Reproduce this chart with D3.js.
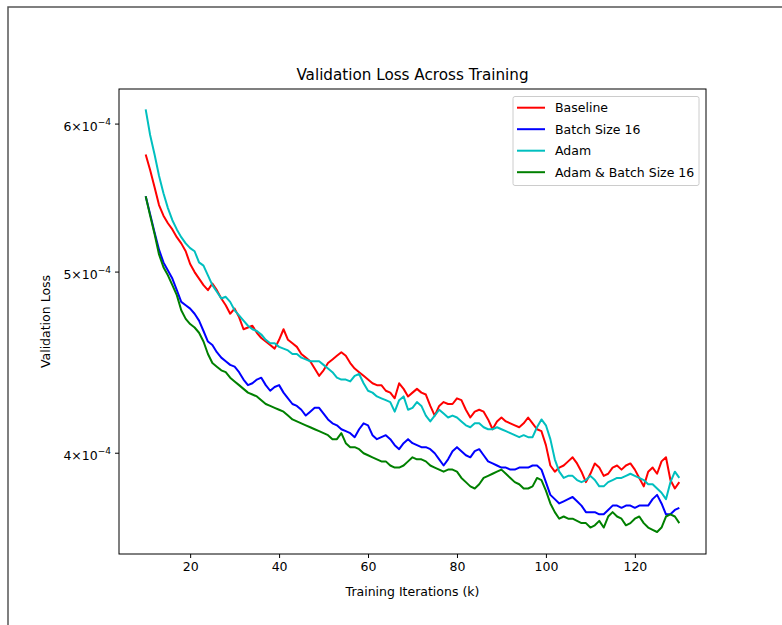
<!DOCTYPE html>
<html lang="en">
<head>
    <meta charset="UTF-8">
    <title>Validation Loss Across Training</title>
    <script src="https://d3js.org/d3.v7.min.js"></script>
    <style>
        body { margin: 0; background: #fff; }
        text { font-family: "DejaVu Sans", sans-serif; fill: #000; }
    </style>
</head>
<body>
<svg id="viz" width="782" height="625"></svg>

<script>
    // training iterations (k)
    var iterations = [10, 11, 12, 13, 14, 15, 16, 17, 18, 19, 20, 21, 22, 23, 24, 25, 26, 27, 28, 29,
        30, 31, 32, 33, 34, 35, 36, 37, 38, 39, 40, 41, 42, 43, 44, 45, 46, 47, 48, 49,
        50, 51, 52, 53, 54, 55, 56, 57, 58, 59, 60, 61, 62, 63, 64, 65, 66, 67, 68, 69,
        70, 71, 72, 73, 74, 75, 76, 77, 78, 79, 80, 81, 82, 83, 84, 85, 86, 87, 88, 89,
        90, 91, 92, 93, 94, 95, 96, 97, 98, 99, 100, 101, 102, 103, 104, 105, 106, 107, 108, 109,
        110, 111, 112, 113, 114, 115, 116, 117, 118, 119, 120, 121, 122, 123, 124, 125, 126, 127, 128, 129, 130];

    // validation loss, in units of 1e-4
    var lossBaseline = [5.78, 5.67, 5.55, 5.43, 5.36, 5.31, 5.27, 5.22, 5.18, 5.13,
        5.05, 5.00, 4.96, 4.92, 4.89, 4.93, 4.89, 4.84, 4.80, 4.75,
        4.78, 4.73, 4.66, 4.67, 4.68, 4.64, 4.61, 4.59, 4.57, 4.55,
        4.60, 4.66, 4.60, 4.58, 4.56, 4.52, 4.50, 4.48, 4.44, 4.40,
        4.43, 4.47, 4.49, 4.51, 4.53, 4.51, 4.47, 4.44, 4.42, 4.40,
        4.38, 4.36, 4.35, 4.35, 4.32, 4.31, 4.28, 4.36, 4.33, 4.29,
        4.31, 4.33, 4.31, 4.30, 4.24, 4.19, 4.24, 4.26, 4.25, 4.25,
        4.28, 4.27, 4.22, 4.18, 4.21, 4.22, 4.21, 4.17, 4.12, 4.16,
        4.18, 4.16, 4.15, 4.14, 4.13, 4.15, 4.18, 4.15, 4.12, 4.11,
        4.04, 3.94, 3.91, 3.93, 3.94, 3.96, 3.98, 3.95, 3.91, 3.86,
        3.90, 3.95, 3.93, 3.89, 3.90, 3.93, 3.94, 3.92, 3.94, 3.95,
        3.92, 3.88, 3.84, 3.91, 3.93, 3.90, 3.96, 3.98, 3.87, 3.83, 3.86];

    var lossBatch16 = [5.49, 5.37, 5.25, 5.14, 5.06, 5.01, 4.96, 4.89, 4.82, 4.80,
        4.78, 4.75, 4.71, 4.65, 4.59, 4.57, 4.53, 4.50, 4.48, 4.46,
        4.45, 4.42, 4.38, 4.35, 4.36, 4.38, 4.39, 4.35, 4.32, 4.34,
        4.35, 4.31, 4.28, 4.25, 4.24, 4.22, 4.19, 4.21, 4.23, 4.23,
        4.20, 4.17, 4.15, 4.14, 4.12, 4.11, 4.10, 4.08, 4.12, 4.15,
        4.14, 4.09, 4.07, 4.08, 4.09, 4.07, 4.04, 4.02, 4.05, 4.07,
        4.05, 4.04, 4.03, 4.03, 4.02, 4.00, 3.97, 3.94, 3.97, 4.01,
        4.03, 4.01, 3.99, 3.98, 4.01, 4.02, 3.99, 3.96, 3.95, 3.94,
        3.93, 3.93, 3.92, 3.92, 3.93, 3.93, 3.93, 3.94, 3.94, 3.92,
        3.86, 3.80, 3.78, 3.76, 3.77, 3.78, 3.79, 3.77, 3.75, 3.72,
        3.72, 3.72, 3.71, 3.71, 3.73, 3.75, 3.75, 3.74, 3.75, 3.75,
        3.74, 3.75, 3.75, 3.75, 3.78, 3.80, 3.76, 3.71, 3.71, 3.73, 3.74];

    var lossAdam = [6.11, 5.92, 5.78, 5.63, 5.51, 5.41, 5.33, 5.27, 5.22, 5.18,
        5.15, 5.13, 5.06, 5.04, 4.98, 4.92, 4.88, 4.84, 4.85, 4.82,
        4.77, 4.74, 4.71, 4.68, 4.66, 4.65, 4.63, 4.60, 4.58, 4.58,
        4.56, 4.55, 4.54, 4.52, 4.52, 4.50, 4.49, 4.48, 4.48, 4.48,
        4.46, 4.44, 4.42, 4.39, 4.38, 4.38, 4.37, 4.40, 4.41, 4.36,
        4.32, 4.31, 4.29, 4.28, 4.27, 4.26, 4.21, 4.27, 4.29, 4.22,
        4.23, 4.26, 4.24, 4.19, 4.16, 4.19, 4.22, 4.20, 4.18, 4.19,
        4.18, 4.16, 4.14, 4.13, 4.15, 4.15, 4.13, 4.12, 4.12, 4.13,
        4.12, 4.11, 4.10, 4.09, 4.08, 4.09, 4.08, 4.08, 4.13, 4.17,
        4.14, 4.07, 3.97, 3.91, 3.88, 3.89, 3.89, 3.87, 3.86, 3.87,
        3.89, 3.87, 3.84, 3.84, 3.86, 3.87, 3.88, 3.88, 3.89, 3.90,
        3.89, 3.88, 3.87, 3.85, 3.85, 3.83, 3.81, 3.78, 3.86, 3.91, 3.88];

    var lossAdamBatch16 = [5.49, 5.36, 5.24, 5.11, 5.03, 4.98, 4.92, 4.86, 4.77, 4.72,
        4.69, 4.67, 4.64, 4.59, 4.52, 4.47, 4.45, 4.43, 4.42, 4.39,
        4.37, 4.35, 4.33, 4.31, 4.30, 4.29, 4.27, 4.25, 4.24, 4.23,
        4.22, 4.21, 4.19, 4.17, 4.16, 4.15, 4.14, 4.13, 4.12, 4.11,
        4.10, 4.09, 4.07, 4.07, 4.10, 4.05, 4.03, 4.03, 4.02, 4.00,
        3.99, 3.98, 3.97, 3.96, 3.96, 3.94, 3.93, 3.93, 3.94, 3.96,
        3.98, 3.97, 3.97, 3.96, 3.94, 3.93, 3.92, 3.91, 3.92, 3.92,
        3.91, 3.88, 3.86, 3.84, 3.83, 3.85, 3.88, 3.89, 3.90, 3.91,
        3.92, 3.90, 3.88, 3.86, 3.85, 3.83, 3.83, 3.84, 3.88, 3.87,
        3.82, 3.76, 3.72, 3.69, 3.70, 3.69, 3.69, 3.68, 3.67, 3.67,
        3.65, 3.66, 3.68, 3.65, 3.70, 3.72, 3.70, 3.69, 3.66, 3.67,
        3.69, 3.70, 3.67, 3.65, 3.64, 3.63, 3.65, 3.70, 3.71, 3.70, 3.67];

    var seriesNames = ["Baseline", "Batch Size 16", "Adam", "Adam & Batch Size 16"];
    var seriesColors = ["#ff0000", "#0000ff", "#00bfbf", "#008000"];
    var seriesValues = [lossBaseline, lossBatch16, lossAdam, lossAdamBatch16];

    var xTicks = [20, 40, 60, 80, 100, 120];
    var yTicks = [6e-4, 5e-4, 4e-4];
    var yTickMantissa = ["6", "5", "4"];
    var yTickExponent = "\u22124";

    var UNIT = 1e-4;

    var svg = d3.select('#viz');

    // figure frame (cropped on the right and bottom)
    svg.append('rect')
        .attr('x', 8)
        .attr('y', 7)
        .attr('width', 800)
        .attr('height', 640)
        .attr('fill', 'none')
        .attr('stroke', '#555')
        .attr('stroke-width', 1.5);

    var plotLeft = 119, plotTop = 89, plotRight = 706, plotBottom = 554;

    var x = d3.scaleLinear().domain([4, 136]).range([plotLeft, plotRight]);
    var y = d3.scaleLog().domain([3.533e-4, 6.265e-4]).range([plotBottom, plotTop]);

    var line = d3.line()
        .x(function (d) { return x(d[0]); })
        .y(function (d) { return y(d[1] * UNIT); });

    var plot = svg.append('g');

    seriesValues.forEach(function (vals, i) {
        var pts = iterations.map(function (it, j) { return [it, vals[j]]; });
        plot.append('path')
            .datum(pts)
            .attr('d', line)
            .attr('fill', 'none')
            .attr('stroke', seriesColors[i])
            .attr('stroke-width', 2)
            .attr('stroke-linejoin', 'round');
    });

    // axes frame
    svg.append('rect')
        .attr('x', plotLeft)
        .attr('y', plotTop)
        .attr('width', plotRight - plotLeft)
        .attr('height', plotBottom - plotTop)
        .attr('fill', 'none')
        .attr('stroke', '#000')
        .attr('stroke-width', 1);

    // x axis
    var xAxis = d3.axisBottom(x).tickValues(xTicks).tickSize(4).tickPadding(4);
    var gx = svg.append('g')
        .attr('transform', 'translate(0,' + plotBottom + ')')
        .call(xAxis);
    gx.select('.domain').remove();
    gx.selectAll('text')
        .style('font-family', '"DejaVu Sans", sans-serif')
        .style('font-size', '12.5px');

    // y axis (log, labels like 6 x 10^-4)
    var gy = svg.append('g');
    gy.selectAll('line')
        .data(yTicks)
        .enter()
        .append('line')
        .attr('x1', plotLeft - 4)
        .attr('x2', plotLeft)
        .attr('y1', function (d) { return y(d); })
        .attr('y2', function (d) { return y(d); })
        .attr('stroke', '#000');
    var labels = gy.selectAll('text')
        .data(yTicks)
        .enter()
        .append('text')
        .attr('x', plotLeft - 8)
        .attr('y', function (d) { return y(d) + 7; })
        .attr('text-anchor', 'end')
        .style('font-size', '12.5px');
    labels.append('tspan')
        .text(function (d, i) { return yTickMantissa[i] + '\u00d710'; });
    labels.append('tspan')
        .attr('dy', -6)
        .style('font-size', '9px')
        .text(yTickExponent);

    // title and axis labels
    svg.append('text')
        .attr('x', (plotLeft + plotRight) / 2)
        .attr('y', 80)
        .attr('text-anchor', 'middle')
        .style('font-size', '15.2px')
        .text('Validation Loss Across Training');

    svg.append('text')
        .attr('x', (plotLeft + plotRight) / 2)
        .attr('y', 596)
        .attr('text-anchor', 'middle')
        .style('font-size', '12.5px')
        .text('Training Iterations (k)');

    svg.append('text')
        .attr('transform', 'translate(50,' + ((plotTop + plotBottom) / 2) + ') rotate(-90)')
        .attr('text-anchor', 'middle')
        .style('font-size', '12.5px')
        .text('Validation Loss');

    // legend
    var legend = svg.append('g');
    legend.append('rect')
        .attr('x', 513)
        .attr('y', 96.5)
        .attr('width', 186)
        .attr('height', 89)
        .attr('rx', 2)
        .attr('fill', '#fff')
        .attr('fill-opacity', 0.8)
        .attr('stroke', '#ccc')
        .attr('stroke-width', 1);

    var rows = legend.selectAll('.row')
        .data(seriesNames)
        .enter()
        .append('g')
        .attr('class', 'row')
        .attr('transform', function (d, i) { return 'translate(0,' + (107.7 + i * 21.5) + ')'; });
    rows.append('line')
        .attr('x1', 517)
        .attr('x2', 545)
        .attr('stroke', function (d, i) { return seriesColors[i]; })
        .attr('stroke-width', 2);
    rows.append('text')
        .attr('x', 555)
        .attr('y', 4.5)
        .style('font-size', '12.5px')
        .text(function (d) { return d; });
</script>
</body>
</html>
